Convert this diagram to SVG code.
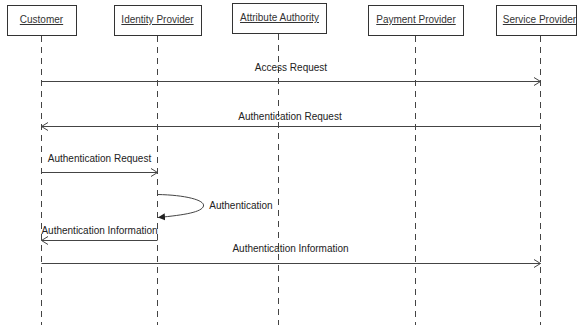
<svg xmlns="http://www.w3.org/2000/svg" width="577" height="325" viewBox="0 0 577 325">
  <style>
    .box { fill: #ffffff; stroke: #333333; stroke-width: 1; }
    .head { font-family: "Liberation Sans", Arial, sans-serif; font-size: 10px; fill: #333333; text-anchor: middle; text-decoration: underline; }
    .life { stroke: #444444; stroke-width: 1; stroke-dasharray: 6 5; fill: none; }
    .msg { stroke: #444444; stroke-width: 1; fill: none; }
    .lbl { font-family: "Liberation Sans", Arial, sans-serif; font-size: 10px; fill: #222222; text-anchor: middle; }
  </style>
  <defs>
    <marker id="open" viewBox="0 0 8 10" refX="7" refY="5" markerWidth="8" markerHeight="10" markerUnits="userSpaceOnUse" orient="auto">
      <path d="M0.5,1 L7,5 L0.5,9" fill="none" stroke="#444444" stroke-width="1"/>
    </marker>
    <marker id="solid" viewBox="0 0 8 8" refX="7" refY="4" markerWidth="8" markerHeight="8" markerUnits="userSpaceOnUse" orient="auto">
      <path d="M0,0.5 L7,4 L0,7.5 Z" fill="#222222"/>
    </marker>
  </defs>

  <rect width="577" height="325" fill="#ffffff"/>

  <!-- participants with their lifelines -->
  <g id="customer">
    <line class="life" x1="41.5" y1="36" x2="41.5" y2="325"/>
    <rect class="box" x="7.5" y="5.5" width="69" height="30"/>
    <text class="head" x="41.5" y="23">Customer</text>
  </g>
  <g id="identity-provider">
    <line class="life" x1="157.5" y1="36" x2="157.5" y2="325"/>
    <rect class="box" x="114.5" y="5.5" width="87" height="30"/>
    <text class="head" x="157.5" y="23">Identity Provider</text>
  </g>
  <g id="attribute-authority">
    <line class="life" x1="278.5" y1="34" x2="278.5" y2="325"/>
    <rect class="box" x="232.5" y="3.5" width="94" height="30"/>
    <text class="head" x="279.5" y="21">Attribute Authority</text>
  </g>
  <g id="payment-provider">
    <line class="life" x1="415.5" y1="36" x2="415.5" y2="325"/>
    <rect class="box" x="368.5" y="5.5" width="95" height="30"/>
    <text class="head" x="416" y="23">Payment Provider</text>
  </g>
  <g id="service-provider">
    <line class="life" x1="540.5" y1="36" x2="540.5" y2="325"/>
    <rect class="box" x="496.5" y="5.5" width="80" height="30"/>
    <text class="head" x="539.5" y="23">Service Provider</text>
  </g>

  <!-- messages -->
  <g id="connectors">
    <line class="msg" x1="41.5" y1="81.5" x2="540.5" y2="81.5" marker-end="url(#open)"/>
    <text class="lbl" x="291" y="71">Access Request</text>

    <line class="msg" x1="540.5" y1="126.5" x2="41.5" y2="126.5" marker-end="url(#open)"/>
    <text class="lbl" x="290" y="120">Authentication Request</text>

    <line class="msg" x1="41.5" y1="172.5" x2="157.5" y2="172.5" marker-end="url(#open)"/>
    <text class="lbl" x="99.5" y="162">Authentication Request</text>

    <path class="msg" d="M157.5,194.5 C185,195 205,200 203.5,206 C202,212 185,215 158,217.5" marker-end="url(#solid)"/>
    <text class="lbl" x="241" y="209">Authentication</text>

    <line class="msg" x1="157.5" y1="240.5" x2="41.5" y2="240.5" marker-end="url(#open)"/>
    <text class="lbl" x="99.5" y="234">Authentication Information</text>

    <line class="msg" x1="41.5" y1="263.5" x2="540.5" y2="263.5" marker-end="url(#open)"/>
    <text class="lbl" x="290.5" y="252">Authentication Information</text>
  </g>
</svg>
